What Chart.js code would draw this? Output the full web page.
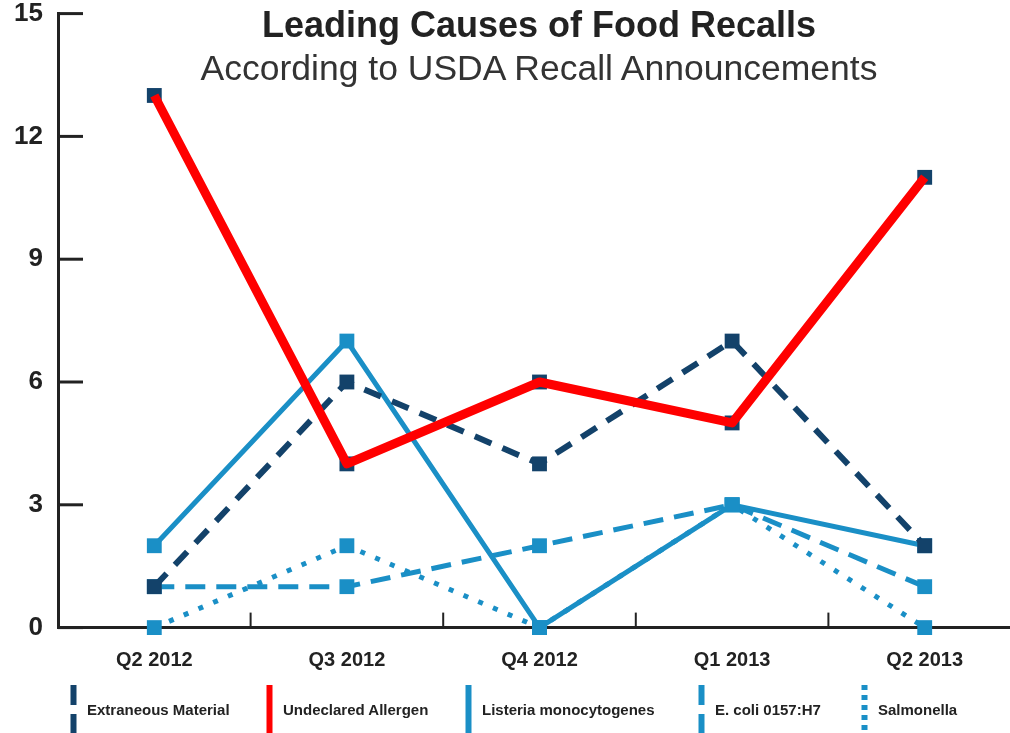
<!DOCTYPE html>
<html lang="en">
<head>
  <meta charset="UTF-8">
  <title>Leading Causes of Food Recalls</title>
  <script src="https://cdn.jsdelivr.net/npm/chart.js"></script>
  <style>
    html, body {
      margin: 0;
      padding: 0;
      background: #fff;
      overflow: hidden;
      font-family: 'Liberation Sans', Arial, sans-serif;
    }
    .wrap {
      position: relative;
      width: 1010px;
      height: 733px;
      overflow: hidden;
    }
    canvas { position: absolute; left: 0; top: 0; }
    .title {
      position: absolute;
      left: 0;
      width: 1078px;
      text-align: center;
      color: #222;
      white-space: nowrap;
      line-height: 1;
    }
    .legend-item {
      position: absolute;
      top: 685px;
      height: 48px;
      display: flex;
      align-items: center;
      font-size: 15px;
      font-weight: bold;
      color: #222;
      white-space: nowrap;
    }
    .legend-item svg { margin-right: 10px; }
  </style>
</head>
<body>
<div class="wrap">
  <canvas id="chart" width="1025" height="780" style="width:1025px;height:780px"></canvas>
  <div class="title" style="top:7px;font-size:36px;font-weight:bold;">Leading Causes of Food Recalls</div>
  <div class="title" style="top:51px;font-size:35.5px;color:#333;">According to USDA Recall Announcements</div>
  <div id="legend"></div>
</div>

<script>
  // data
  const quarters = ['Q2 2012', 'Q3 2012', 'Q4 2012', 'Q1 2013', 'Q2 2013'];
  const extraneous = [1, 6, 4, 7, 2];
  const allergen = [13, 4, 6, 5, 11];
  const listeria = [2, 7, 0, 3, 2];
  const ecoli = [1, 1, 2, 3, 1];
  const salmonella = [0, 2, 0, 3, 0];
  const yTicks = [0, 3, 6, 9, 12, 15];

  const NAVY = '#13426a';
  const RED = '#ff0000';
  const BLUE = '#1a8fc6';

  // where the plot should sit on the page
  const PLOT_TOP = 14, PLOT_BOTTOM = 628;
  const CANVAS_H = 780;
  let xAxisHeight = 105;

  // legend entries (swatch drawn as a vertical line)
  const legendEntries = [
    { label: 'Extraneous Material', color: NAVY, dash: '20 9', x: 70 },
    { label: 'Undeclared Allergen', color: RED, dash: '', x: 266 },
    { label: 'Listeria monocytogenes', color: BLUE, dash: '', x: 465 },
    { label: 'E. coli 0157:H7', color: BLUE, dash: '20 9', x: 698 },
    { label: 'Salmonella', color: BLUE, dash: '5 5', x: 861 }
  ];

  const legend = document.getElementById('legend');
  legendEntries.forEach(e => {
    const div = document.createElement('div');
    div.className = 'legend-item';
    div.style.left = e.x + 'px';
    div.innerHTML = `<svg width="7" height="48"><line x1="3.5" y1="0" x2="3.5" y2="48" stroke="${e.color}" stroke-width="6" ${e.dash ? `stroke-dasharray="${e.dash}"` : ''}/></svg>${e.label}`;
    legend.appendChild(div);
  });

  // tick marks drawn inside the plot, like the original
  const insideTicks = {
    id: 'insideTicks',
    beforeDatasetsDraw(chart) {
      const { ctx, chartArea } = chart;
      const x = chart.scales.x, y = chart.scales.y;
      ctx.save();
      ctx.strokeStyle = '#222';
      ctx.lineWidth = 3;
      yTicks.forEach(v => {
        const py = y.getPixelForValue(v);
        ctx.beginPath();
        ctx.moveTo(chartArea.left, py);
        ctx.lineTo(chartArea.left + 25, py);
        ctx.stroke();
      });
      ctx.lineWidth = 2;
      for (let i = 0; i < quarters.length - 1; i++) {
        const px = (x.getPixelForValue(i) + x.getPixelForValue(i + 1)) / 2;
        ctx.beginPath();
        ctx.moveTo(px, chartArea.bottom);
        ctx.lineTo(px, chartArea.bottom - 15);
        ctx.stroke();
      }
      ctx.restore();
    }
  };

  const common = {
    fill: false,
    tension: 0,
    pointStyle: 'rect',
    pointRadius: 10.5,
    pointHoverRadius: 10.5,
    pointBorderWidth: 0,
    clip: false
  };

  const canvas = document.getElementById('chart');
  const chart = new Chart(canvas, {
    type: 'line',
    data: {
      labels: quarters,
      datasets: [
        { ...common, label: 'Extraneous Material', data: extraneous, order: 2,
          borderColor: NAVY, backgroundColor: NAVY, pointBackgroundColor: NAVY,
          borderWidth: 6, borderDash: [18, 12] },
        { ...common, label: 'Undeclared Allergen', data: allergen, order: 0,
          borderColor: RED, backgroundColor: RED, pointRadius: 0, pointHoverRadius: 0,
          borderWidth: 9, borderJoinStyle: 'round' },
        { ...common, label: 'Undeclared Allergen markers', data: allergen, order: 1,
          showLine: false, pointBackgroundColor: NAVY, backgroundColor: NAVY, borderColor: NAVY },
        { ...common, label: 'Listeria monocytogenes', data: listeria, order: 3,
          borderColor: BLUE, backgroundColor: BLUE, pointBackgroundColor: BLUE,
          borderWidth: 5 },
        { ...common, label: 'E. coli 0157:H7', data: ecoli, order: 4,
          borderColor: BLUE, backgroundColor: BLUE, pointBackgroundColor: BLUE,
          borderWidth: 5, borderDash: [20, 11] },
        { ...common, label: 'Salmonella', data: salmonella, order: 5,
          borderColor: BLUE, backgroundColor: BLUE, pointBackgroundColor: BLUE,
          borderWidth: 5, borderDash: [5, 11] }
      ]
    },
    options: {
      responsive: false,
      animation: false,
      layout: { autoPadding: false, padding: { top: 0, right: 4, left: 0, bottom: 0 } },
      plugins: {
        legend: { display: false },
        tooltip: { enabled: false },
        title: { display: false }
      },
      scales: {
        x: {
          offset: true,
          grid: { display: false, tickLength: 0 },
          border: { display: true, color: '#222', width: 3 },
          ticks: {
            color: '#222',
            padding: 21,
            font: { family: "'Liberation Sans', Arial, sans-serif", size: 20, weight: 'bold' },
            maxRotation: 0
          },
          afterFit: s => { s.height = xAxisHeight; }
        },
        y: {
          min: 0,
          max: 15,
          grid: { display: false, tickLength: 0 },
          border: { display: true, color: '#222', width: 3 },
          ticks: {
            stepSize: 3,
            color: '#222',
            padding: 15,
            font: { family: "'Liberation Sans', Arial, sans-serif", size: 26, weight: 'bold' }
          },
          afterFit: s => { s.width = 58; }
        }
      }
    },
    plugins: [insideTicks]
  });

  // shift the canvas so the plot area lands where it sits in the original
  const shift = PLOT_TOP - chart.scales.y.getPixelForValue(15);
  canvas.style.top = shift + 'px';
  xAxisHeight = CANVAS_H + shift - PLOT_BOTTOM;
  chart.update();
</script>
</body>
</html>
